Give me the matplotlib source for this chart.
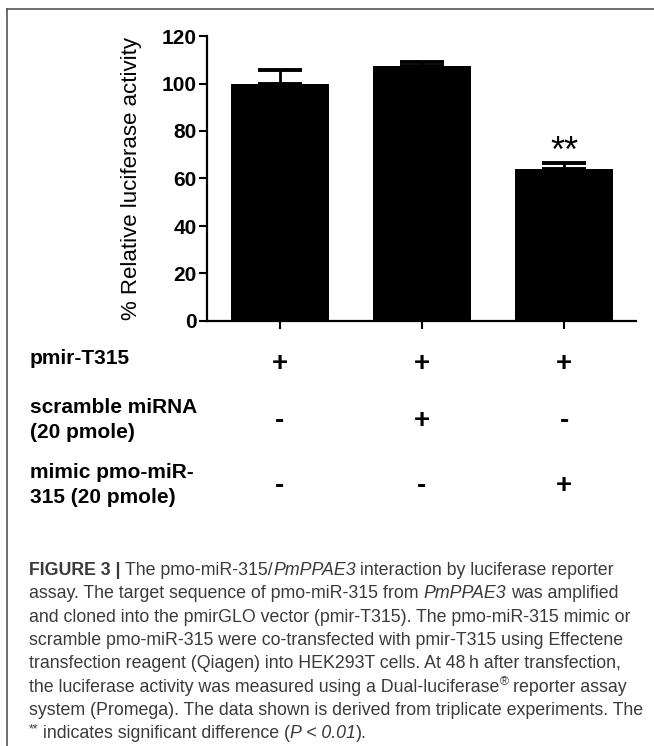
import numpy as np
import matplotlib.pyplot as plt
from matplotlib.lines import Line2D
import matplotlib.transforms as mtransforms

W, H = 654, 746

# data
activity = [100.0, 107.5, 64.0]
err_up = [5.5, 1.7, 2.5]
yticks = [0, 20, 40, 60, 80, 100, 120]
sig_marks = ['', '', '**']
row_labels = ['pmir-T315', 'scramble miRNA\n(20 pmole)', 'mimic pmo-miR-\n315 (20 pmole)']
row_signs = [['+', '+', '+'],
             ['-', '+', '-'],
             ['-', '-', '+']]
ylabel = '% Relative luciferase activity'

# caption lines: (text, style) pieces
caption = [
    [('FIGURE 3 |', 'b'), (' The pmo-miR-315/', 'n'), ('PmPPAE3', 'i'),
     (' interaction by luciferase reporter', 'n')],
    [('assay. The target sequence of pmo-miR-315 from ', 'n'), ('PmPPAE3', 'i'),
     (' was amplified', 'n')],
    [('and cloned into the pmirGLO vector (pmir-T315). The pmo-miR-315 mimic or', 'n')],
    [('scramble pmo-miR-315 were co-transfected with pmir-T315 using Effectene', 'n')],
    [('transfection reagent (Qiagen) into HEK293T cells. At 48\u2009h after transfection,', 'n')],
    [('the luciferase activity was measured using a Dual-luciferase', 'n'), ('®', 's'),
     (' reporter assay', 'n')],
    [('system (Promega). The data shown is derived from triplicate experiments. The', 'n')],
    [('**', 's'), (' indicates significant difference (', 'n'), ('P < 0.01', 'i'), (').', 'n')],
]

plt.rcParams['font.family'] = ['Liberation Sans', 'DejaVu Sans']

fig = plt.figure(figsize=(W / 100, H / 100), dpi=100)
ax = fig.add_axes([207 / W, 1 - 321 / H, (636 - 207) / W, (321 - 36) / H])

x = np.arange(len(activity))
ax.bar(x, activity, width=0.69, color='black', zorder=2)
ax.errorbar(x, activity, yerr=[np.zeros(len(x)), err_up], fmt='none',
            ecolor='black', elinewidth=2.0, capsize=16, capthick=2.8, zorder=3)
for xi, v, e, m in zip(x, activity, err_up, sig_marks):
    if m:
        ax.text(xi, v + e + 0.5, m, ha='center', va='baseline', fontsize=26)

ax.set_xlim(-0.514, 2.507)
ax.set_ylim(0, 120)
ax.set_yticks(yticks)
ax.set_xticks(x)
ax.set_xticklabels([])
for s in ['top', 'right']:
    ax.spines[s].set_visible(False)
for s in ['left', 'bottom']:
    ax.spines[s].set_linewidth(1.6)
ax.tick_params(axis='y', direction='out', length=6, width=1.5, pad=1.5,
               labelsize=15)
ax.tick_params(axis='x', direction='out', length=6, width=1.5)
for lab in ax.get_yticklabels():
    lab.set_fontweight('bold')

fig.text(131 / W, 1 - 179 / H, ylabel, rotation=90, ha='center', va='center',
         fontsize=16)

# condition table under the bars
blend = mtransforms.blended_transform_factory(ax.transData, fig.transFigure)
label_y = [359, 420, 485]
sign_base = [371, 428, 493]
for r, (lab, signs) in enumerate(zip(row_labels, row_signs)):
    fig.text(30 / W, 1 - label_y[r] / H, lab, ha='left', va='center',
             fontsize=15, fontweight='bold', linespacing=1.42)
    for xi, sg in zip(x, signs):
        ax.text(xi, 1 - sign_base[r] / H, sg, transform=blend, ha='center',
                va='baseline', fontsize=20, fontweight='bold')

# frame lines
fig.add_artist(Line2D([7 / W, 7 / W], [1 - 9 / H, 0], transform=fig.transFigure,
                      color='#555555', lw=1.2))
fig.add_artist(Line2D([7 / W, 1], [1 - 9 / H, 1 - 9 / H], transform=fig.transFigure,
                      color='#555555', lw=1.2))

# caption
renderer = fig.canvas.get_renderer()
cap_size = 12.8
cap_col = '#3a3a3a'


def props(style):
    if style == 'b':
        return dict(fontweight='bold', fontsize=cap_size)
    if style == 'i':
        return dict(fontstyle='italic', fontsize=cap_size)
    if style == 's':
        return dict(fontsize=cap_size * 0.7)
    return dict(fontsize=cap_size)


def width(s, kw):
    t = fig.text(0, 0, s, **kw)
    w = t.get_window_extent(renderer).width
    t.remove()
    return w


for k, segs in enumerate(caption):
    base = 575 + k * 23.3
    xp = 29
    for text, style in segs:
        kw = props(style)
        sp = width('a a', kw) - width('aa', kw)
        lead = len(text) - len(text.lstrip(' '))
        trail = len(text) - len(text.rstrip(' '))
        xp += lead * sp
        core = text.strip(' ')
        yb = base - (6 if style == 's' else 0)
        t = fig.text(xp / W, 1 - yb / H, core, ha='left', va='baseline',
                     color=cap_col, **kw)
        xp += t.get_window_extent(renderer).width + trail * sp

fig.savefig('out.png', dpi=100)
